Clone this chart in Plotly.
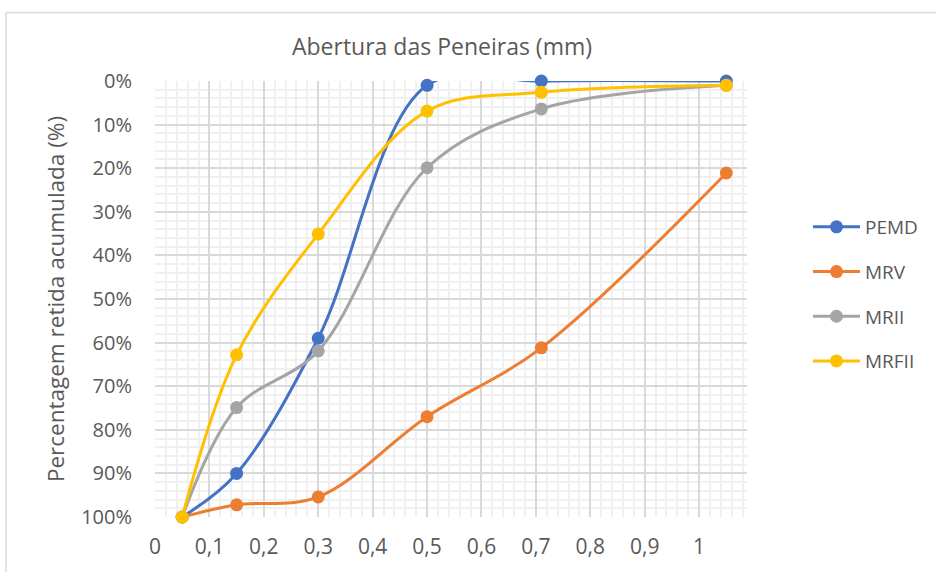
import plotly.graph_objects as go

aberturas = [0.05, 0.15, 0.3, 0.5, 0.71, 1.05]
series_names = ["PEMD", "MRV", "MRII", "MRFII"]
pemd = [100, 90, 59, 1, 0, 0]
mrv = [100, 97.2, 95.4, 77.0, 61.2, 21.1]
mrii = [100, 74.9, 61.9, 19.9, 6.4, 1.0]
mrfii = [100, 62.8, 35.1, 6.9, 2.6, 1.0]
colors = ["#4472C4", "#ED7D31", "#A5A5A5", "#FFC000"]

values = [pemd, mrv, mrii, mrfii]

fig = go.Figure()
for name, vals, col in zip(series_names, values, colors):
    fig.add_trace(go.Scatter(
        x=aberturas, y=vals, name=name, mode="lines+markers",
        line=dict(color=col, width=3, shape="spline", smoothing=1.0),
        marker=dict(color=col, size=13),
        cliponaxis=False, legendgroup=name,
    ))

L, R, T, B = 155, 189, 81, 55
W, H = 936, 572
pw, ph = W - L - R, H - T - B

def px(xp):
    return (xp - L) / pw

def py(yp):
    return (H - B - yp) / ph

fig.update_layout(
    width=W, height=H,
    margin=dict(l=L, r=R, t=T, b=B, autoexpand=False),
    paper_bgcolor="white", plot_bgcolor="white",
    separators=",.",
    font=dict(family="Open Sans", color="#595959", size=20),
    title=dict(text="Abertura das Peneiras (mm)", x=px(442), xref="paper",
               xanchor="center", y=1 - 47 / H, yanchor="middle",
               font=dict(size=23, color="#595959")),
    showlegend=True,
    legend=dict(x=px(808), y=py(208), xanchor="left", yanchor="top",
                traceorder="grouped", tracegroupgap=17,
                font=dict(size=19, color="#595959"), itemwidth=47,
                bgcolor="rgba(0,0,0,0)"),
    shapes=[
        dict(type="line", xref="paper", yref="paper", x0=px(6), x1=px(W + 10),
             y0=py(12.5), y1=py(12.5), line=dict(color="#d9d9d9", width=1.5)),
        dict(type="line", xref="paper", yref="paper", x0=px(6), x1=px(6),
             y0=py(12.5), y1=py(H + 10), line=dict(color="#d9d9d9", width=1.5)),
    ],
)

fig.update_xaxes(
    range=[0, 1.088], tick0=0, dtick=0.1, showgrid=True,
    gridcolor="#d9d9d9", gridwidth=1.5, zeroline=False, showline=False,
    ticks="", ticklabelstandoff=15,
    tickfont=dict(size=21, color="#595959"),
    minor=dict(dtick=0.02, tick0=0, showgrid=True, gridcolor="#f0f0f0", gridwidth=1.5),
)
fig.update_yaxes(
    range=[100, 0], tick0=0, dtick=10, ticksuffix="%", showgrid=True,
    gridcolor="#d9d9d9", gridwidth=1.5, zeroline=False, showline=False,
    ticks="", ticklabelstandoff=22,
    tickfont=dict(size=20, color="#595959"),
    title=dict(text="Percentagem retida acumulada (%)", standoff=10,
               font=dict(size=22.5, color="#595959")),
    minor=dict(dtick=2, tick0=0, showgrid=True, gridcolor="#f0f0f0", gridwidth=1.5),
)

fig.write_html("out.html")
